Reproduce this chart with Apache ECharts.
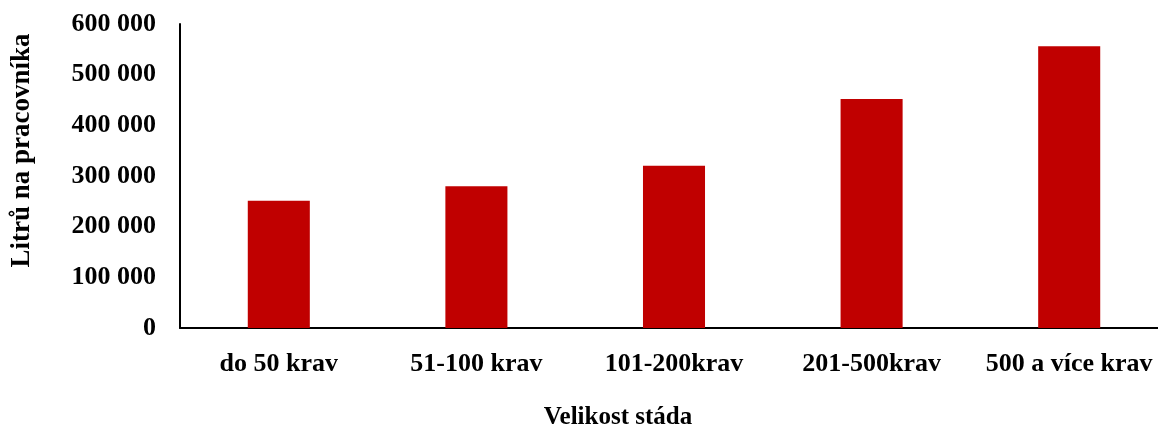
<!DOCTYPE html>
<html>
<head>
<meta charset="utf-8">
<script src="https://cdn.jsdelivr.net/npm/echarts@6/dist/echarts.min.js"></script>
<style>
    html, body { margin: 0; padding: 0; background: #fff; }
    #litryChart { width: 1158px; height: 432px; }
</style>
</head>
<body>
<div id="litryChart"></div>
<script>
// velikost stada a litry na pracovnika
let categories = ['do 50 krav', '51-100 krav', '101-200krav', '201-500krav', '500 a více krav'];
let litersPerWorker = [251000, 280000, 320000, 452000, 556000];
let yTickStep = 100000;
let yMax = 600000;

let fontFam = "'Liberation Serif', 'Times New Roman', serif";

let litryChart = echarts.init(document.getElementById('litryChart'));

function formatThousands(value) {
    return String(value).replace(/\B(?=(\d{3})+(?!\d))/g, ' ');
}

let litryOption = {
    animation: false,
    grid: {
        left: 180,
        right: -10,
        top: 24,
        bottom: 104,
        outerBoundsMode: 'none'
    },
    xAxis: {
        type: 'category',
        data: categories,
        name: 'Velikost stáda',
        nameLocation: 'middle',
        nameGap: 77,
        nameTextStyle: {
            fontFamily: fontFam,
            fontWeight: 'bold',
            fontSize: 25,
            color: '#000',
            padding: [0, 112, 0, 0]
        },
        axisLine: {
            lineStyle: {color: '#000', width: 2}
        },
        axisTick: {show: false},
        axisLabel: {
            interval: 0,
            margin: 23,
            fontFamily: fontFam,
            fontWeight: 'bold',
            fontSize: 26,
            color: '#000'
        }
    },
    yAxis: {
        type: 'value',
        min: 0,
        max: yMax,
        interval: yTickStep,
        name: 'Litrů na pracovníka',
        nameLocation: 'middle',
        nameGap: 144,
        nameTextStyle: {
            fontFamily: fontFam,
            fontWeight: 'bold',
            fontSize: 27,
            color: '#000',
            padding: [0, 0, 0, 51]
        },
        axisLine: {
            show: true,
            lineStyle: {color: '#000', width: 2}
        },
        axisTick: {show: false},
        splitLine: {show: false},
        axisLabel: {
            margin: 24,
            fontFamily: fontFam,
            fontWeight: 'bold',
            fontSize: 26,
            color: '#000',
            formatter: formatThousands
        }
    },
    series: [
        {
            name: 'Litrů na pracovníka',
            type: 'bar',
            data: litersPerWorker,
            barWidth: '31.4%',
            itemStyle: {color: '#C00000'}
        }
    ]
};
litryChart.setOption(litryOption);
</script>
</body>
</html>
